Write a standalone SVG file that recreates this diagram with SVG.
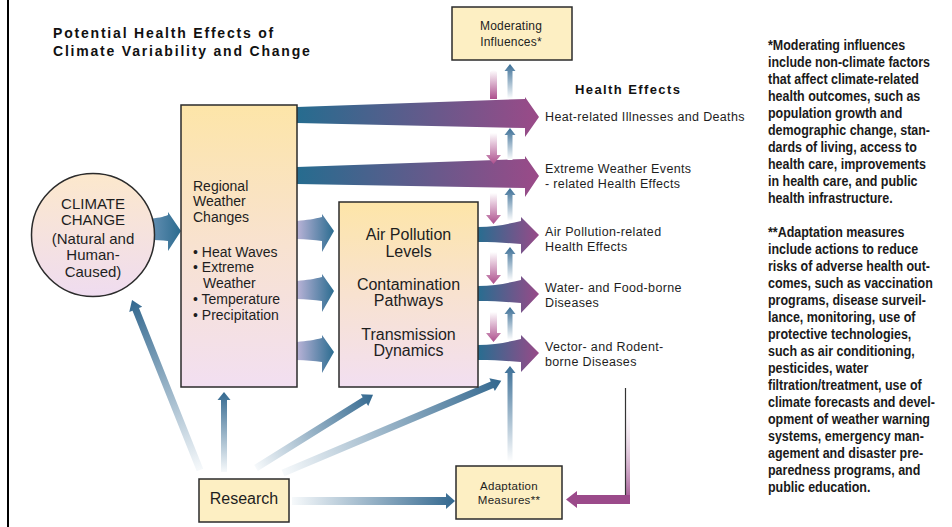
<svg xmlns="http://www.w3.org/2000/svg" width="952" height="527" viewBox="0 0 952 527">
<style>
.box{stroke:#2b2b2b;stroke-width:1.5}
.flat{fill:#fdefc3}
.t{font-family:"Liberation Sans",Arial,sans-serif;fill:#1e1e1e}
.he{font-size:12.5px;letter-spacing:0.35px}
.note{font-family:"Liberation Sans",Arial,sans-serif;font-weight:bold;font-size:14px;fill:#1a1a1a}
.hd{font-family:"Liberation Sans",Arial,sans-serif;font-weight:bold;fill:#111}
</style>
<defs>
<linearGradient id="gBox" x1="0" y1="0" x2="0" y2="1"><stop offset="0" stop-color="#fde5a8"/><stop offset="0.5" stop-color="#f8e2d0"/><stop offset="1" stop-color="#f2dff1"/></linearGradient>
<linearGradient id="gCircle" x1="0" y1="0" x2="0" y2="1"><stop offset="0" stop-color="#fce8cc"/><stop offset="1" stop-color="#efdcf0"/></linearGradient>
<linearGradient id="gBig" gradientUnits="userSpaceOnUse" x1="297" y1="0" x2="540" y2="0"><stop offset="0" stop-color="#266c8f"/><stop offset="1" stop-color="#9b4a88"/></linearGradient>
<linearGradient id="gShort" x1="0" y1="0" x2="1" y2="0"><stop offset="0" stop-color="#286d90"/><stop offset="1" stop-color="#984a88"/></linearGradient>
<linearGradient id="gLav" x1="0" y1="0" x2="1" y2="0"><stop offset="0" stop-color="#b9b3d7"/><stop offset="1" stop-color="#2b6c90"/></linearGradient>
<linearGradient id="gCirc" x1="0" y1="0" x2="1" y2="0"><stop offset="0" stop-color="#6a93b6"/><stop offset="1" stop-color="#2b6b8f"/></linearGradient>
<linearGradient id="gRes" x1="0" y1="0" x2="1" y2="0"><stop offset="0" stop-color="#f6f9fb"/><stop offset="1" stop-color="#33688f"/></linearGradient>
<linearGradient id="gUp" x1="0" y1="1" x2="0" y2="0"><stop offset="0" stop-color="#ffffff"/><stop offset="1" stop-color="#3a6e96"/></linearGradient>
<linearGradient id="gDown" x1="0" y1="0" x2="0" y2="1"><stop offset="0" stop-color="#ffffff"/><stop offset="1" stop-color="#ad4f8d"/></linearGradient>
<linearGradient id="gPurV" x1="0" y1="0" x2="0" y2="1"><stop offset="0" stop-color="#ffffff" stop-opacity="0"/><stop offset="1" stop-color="#9b4a8a"/></linearGradient>
</defs>

<line x1="8" y1="0" x2="8" y2="527" stroke="#000" stroke-width="2"/>

<g id="title" class="hd" font-size="14" letter-spacing="1.8">
<text x="53" y="38">Potential Health Effects of</text>
<text x="53" y="56">Climate Variability and Change</text>
</g>

<g id="connectors">
<path d="M0,-3.5 H173 V-7 L183,0 L173,7 V3.5 H0 Z" fill="url(#gRes)" transform="translate(200,470) rotate(-111.8)"/>
<path d="M0,-3 H72 V-6.5 L80,0 L72,6.5 V3 H0 Z" fill="url(#gRes)" transform="translate(224,472) rotate(-90)"/>
<path d="M0,-3.5 H128 V-7 L138,0 L128,7 V3.5 H0 Z" fill="url(#gRes)" transform="translate(256,468) rotate(-32)"/>
<path d="M0,-3.5 H227 V-7 L237,0 L227,7 V3.5 H0 Z" fill="url(#gRes)" transform="translate(283,473) rotate(-22.9)"/>
<path d="M0,-4 H154 V-8 L163,0 L154,8 V4 H0 Z" fill="url(#gRes)" transform="translate(292,501)"/>
<path d="M148,219 C158,218 163,217 168,215 L168,212 L181,231 L168,251 L168,241 C162,240 156,240 148,240 Z" fill="url(#gCirc)"/>
<path d="M297,221 C307,220 314,219 322,217 L322,214 L334,231 L322,252 L322,241 C314,240 306,239 297,239 Z" fill="url(#gLav)"/>
<path d="M297,281 C307,280 314,279 322,277 L322,274 L334,291 L322,312 L322,301 C314,300 306,299 297,299 Z" fill="url(#gLav)"/>
<path d="M297,342 C307,341 314,340 322,338 L322,335 L334,352 L322,373 L322,362 C314,361 306,360 297,360 Z" fill="url(#gLav)"/>
<path d="M297,107 L525,99 L525,97 L539,117 L525,137 L525,128 L297,123 Z" fill="url(#gBig)"/>
<path d="M297,167 L525,159 L525,156 L539,176 L525,197 L525,188 L297,184 Z" fill="url(#gBig)"/>
<path d="M478,227 C495,227 508,224 521,221 L521,217 L539,235 L521,254 L521,244 C508,243 495,242 478,242 Z" fill="url(#gShort)"/>
<path d="M478,286 C495,286 508,283 521,280 L521,276 L539,294 L521,313 L521,303 C508,302 495,301 478,301 Z" fill="url(#gShort)"/>
<path d="M478,345 C495,345 508,342 521,339 L521,335 L539,353 L521,372 L521,362 C508,361 495,360 478,360 Z" fill="url(#gShort)"/>
<path d="M490,72 Q493.5,68 497,72 V99 H490 Z" fill="url(#gDown)"/>
<path d="M490,133 V155 H486 L493.5,164 L501,155 H497 V133 Z" fill="url(#gDown)"/>
<path d="M490,193 V215 H486 L493.5,224 L501,215 H497 V193 Z" fill="url(#gDown)"/>
<path d="M490,252 V275 H486 L493.5,284 L501,275 H497 V252 Z" fill="url(#gDown)"/>
<path d="M490,312 V333 H486 L493.5,342 L501,333 H497 V312 Z" fill="url(#gDown)"/>
<path d="M507.5,99 V71 H504.5 L510,64 L515.5,71 H512.5 V99 Z" fill="url(#gUp)"/>
<path d="M507.5,160 V135 H504.5 L510,128 L515.5,135 H512.5 V160 Z" fill="url(#gUp)"/>
<path d="M507.5,221 V195 H504.5 L510,188 L515.5,195 H512.5 V221 Z" fill="url(#gUp)"/>
<path d="M507.5,281 V254 H504.5 L510,247 L515.5,254 H512.5 V281 Z" fill="url(#gUp)"/>
<path d="M507.5,340 V314 H504.5 L510,307 L515.5,314 H512.5 V340 Z" fill="url(#gUp)"/>
<path d="M507.5,462 V373 H504.5 L510,366 L515.5,373 H512.5 V462 Z" fill="url(#gUp)"/>
<rect x="625" y="392" width="5" height="112" fill="url(#gPurV)"/>
<line x1="625.5" y1="388" x2="625.5" y2="500" stroke="#333" stroke-width="1.2"/>
<path d="M630,495 L630,504 L577,504 L577,508 L566,499.5 L577,491 L577,495 Z" fill="#9b4a8a"/>
</g>

<g id="moderating">
<rect class="box flat" x="452" y="7" width="120" height="53"/>
<text class="t" x="511" y="30" font-size="12" letter-spacing="0.2" text-anchor="middle">Moderating</text>
<text class="t" x="511" y="46" font-size="12" letter-spacing="0.2" text-anchor="middle">Influences*</text>
</g>

<g id="climate">
<circle cx="93" cy="235" r="61.5" fill="url(#gCircle)" stroke="#2b2b2b" stroke-width="1.5"/>
<g class="t" font-size="15" text-anchor="middle">
<text x="93" y="209">CLIMATE</text>
<text x="93" y="225">CHANGE</text>
<text x="93" y="244">(Natural and</text>
<text x="93" y="260">Human-</text>
<text x="93" y="277">Caused)</text>
</g>
</g>

<g id="regional">
<rect class="box" x="181" y="105" width="116" height="282" fill="url(#gBox)"/>
<g class="t" font-size="14">
<text x="193" y="191">Regional</text>
<text x="193" y="206">Weather</text>
<text x="193" y="222">Changes</text>
<text x="193" y="257">• Heat Waves</text>
<text x="193" y="272">• Extreme</text>
<text x="203" y="288">Weather</text>
<text x="193" y="304">• Temperature</text>
<text x="193" y="320">• Precipitation</text>
</g>
</g>

<g id="pathways">
<rect class="box" x="339" y="202" width="139" height="185" fill="url(#gBox)"/>
<g class="t" font-size="16" text-anchor="middle">
<text x="408.5" y="240">Air Pollution</text>
<text x="408.5" y="257">Levels</text>
<text x="408.5" y="290">Contamination</text>
<text x="408.5" y="306">Pathways</text>
<text x="408.5" y="340">Transmission</text>
<text x="408.5" y="356">Dynamics</text>
</g>
</g>

<g id="research">
<rect class="box flat" x="199" y="479" width="90" height="43"/>
<text class="t" x="244" y="504" font-size="16" text-anchor="middle">Research</text>
</g>

<g id="adaptation">
<rect class="box flat" x="456" y="466" width="106" height="53"/>
<text class="t" x="509" y="490" font-size="11.5" letter-spacing="0.3" text-anchor="middle">Adaptation</text>
<text class="t" x="509" y="504" font-size="11.5" letter-spacing="0.3" text-anchor="middle">Measures**</text>
</g>

<g id="health-effects">
<text class="hd" x="575" y="94" font-size="13" letter-spacing="1.4">Health Effects</text>
<g class="t he">
<text x="545" y="121">Heat-related Illnesses and Deaths</text>
<text x="545" y="173">Extreme Weather Events</text>
<text x="545" y="187.5">- related Health Effects</text>
<text x="545" y="236">Air Pollution-related</text>
<text x="545" y="250.5">Health Effects</text>
<text x="545" y="292">Water- and Food-borne</text>
<text x="545" y="306.5">Diseases</text>
<text x="545" y="351">Vector- and Rodent-</text>
<text x="545" y="365.5">borne Diseases</text>
</g>
</g>

<g id="notes" class="note" transform="translate(768,0) scale(0.89,1)">
<text x="0" y="50">*Moderating influences</text>
<text x="0" y="67">include non-climate factors</text>
<text x="0" y="84">that affect climate-related</text>
<text x="0" y="101">health outcomes, such as</text>
<text x="0" y="118">population growth and</text>
<text x="0" y="135">demographic change, stan-</text>
<text x="0" y="152">dards of living, access to</text>
<text x="0" y="169">health care, improvements</text>
<text x="0" y="186">in health care, and public</text>
<text x="0" y="203">health infrastructure.</text>
<text x="0" y="237">**Adaptation measures</text>
<text x="0" y="254">include actions to reduce</text>
<text x="0" y="271">risks of adverse health out-</text>
<text x="0" y="288">comes, such as vaccination</text>
<text x="0" y="305">programs, disease surveil-</text>
<text x="0" y="322">lance, monitoring, use of</text>
<text x="0" y="339">protective technologies,</text>
<text x="0" y="356">such as air conditioning,</text>
<text x="0" y="373">pesticides, water</text>
<text x="0" y="390">filtration/treatment, use of</text>
<text x="0" y="407">climate forecasts and devel-</text>
<text x="0" y="424">opment of weather warning</text>
<text x="0" y="441">systems, emergency man-</text>
<text x="0" y="458">agement and disaster pre-</text>
<text x="0" y="475">paredness programs, and</text>
<text x="0" y="492">public education.</text>
</g>
</svg>
